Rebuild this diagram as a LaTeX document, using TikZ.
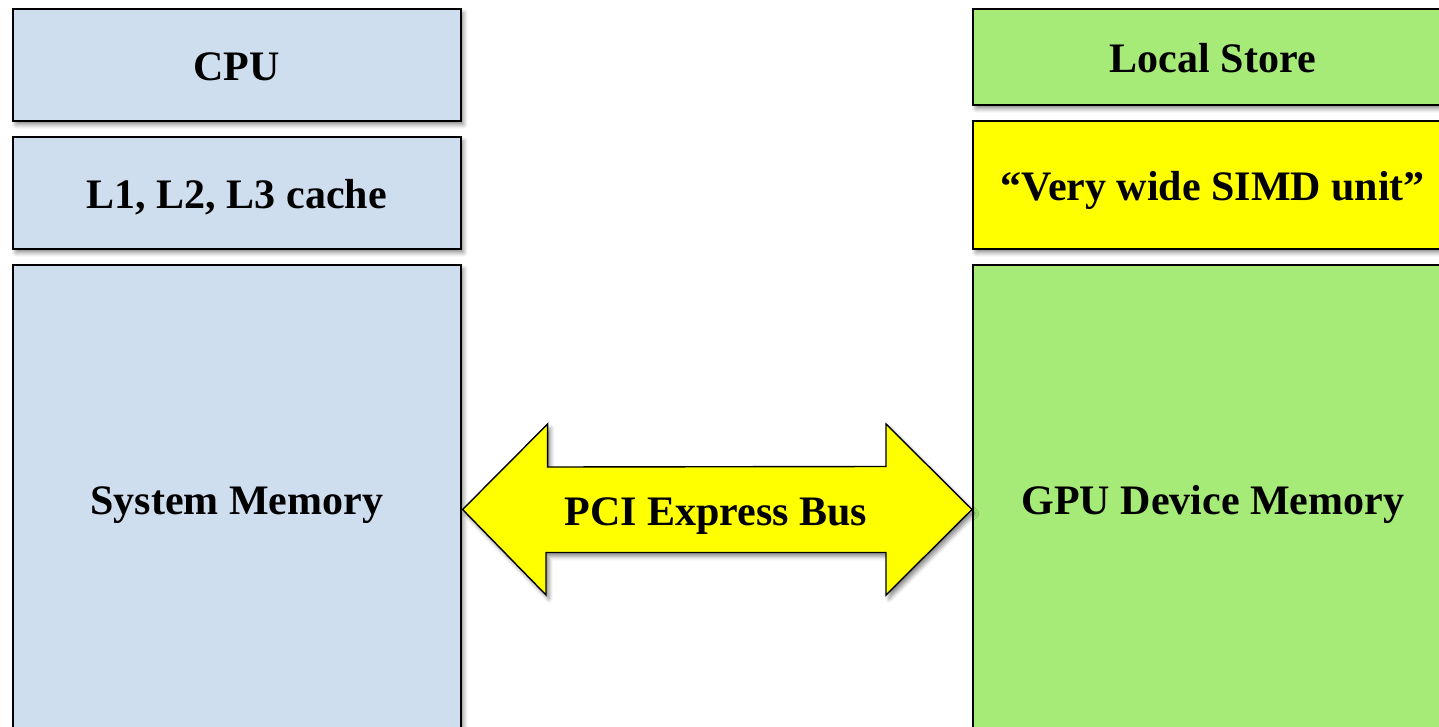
\documentclass[tikz,border=0pt]{standalone}
\usepackage{fontspec}
\setmainfont{Liberation Serif}
\usetikzlibrary{shadows.blur}
\definecolor{cpublue}{RGB}{207,222,238}
\definecolor{gpugreen}{RGB}{166,234,120}
\definecolor{simdyellow}{RGB}{255,255,0}
\tikzset{
  labeltext/.style={font=\fontsize{42}{48}\selectfont\bfseries, text height=32pt, text depth=0pt},
  unit/.style={labeltext, draw=black, line width=1.6pt, inner sep=0pt, anchor=north west,
    blur shadow={shadow xshift=3pt, shadow yshift=-4pt, shadow blur radius=4pt, shadow opacity=45}},
  hostbox/.style={unit, fill=cpublue, minimum width=448pt},
  devbox/.style={unit, fill=gpugreen, minimum width=480pt},
  busarrow/.style={draw=black, line width=1.4pt, fill=simdyellow, line join=miter,
    blur shadow={shadow xshift=3pt, shadow yshift=-4pt, shadow blur radius=4pt, shadow opacity=45}},
  buslabel/.style={labeltext, inner sep=0pt}
}
\begin{document}
\begin{tikzpicture}[x=1pt,y=-1pt]
\useasboundingbox (0,0) rectangle (1439,727);
\clip (0,0) rectangle (1439,727);

% host side
\node[hostbox, minimum height=112pt] (cpu) at (12,8) {CPU};
\node[hostbox, minimum height=112pt] (cache) at (12,136) {L1, L2, L3 cache};
\node[hostbox, minimum height=468pt] (sysmem) at (12,264) {System Memory};

% device side
\node[devbox, minimum height=96pt] (lstore) at (972,8) {Local Store};
\node[devbox, fill=simdyellow, minimum height=128pt] (simd) at (972,120) {“Very wide SIMD unit”};
\node[devbox, minimum height=468pt] (gpumem) at (972,264) {GPU Device Memory};

% bus between the two memories
\coordinate (ltip) at ([xshift=1pt]sysmem.east |- 0,509.5);
\coordinate (rtip) at (gpumem.west |- 0,509.5);
\path[busarrow] (ltip) -- ++(85,-85.5) -- ++(0,43) -- (886,466.5) -- (886,424)
  -- (rtip) -- (886,595) -- (886,552.5) -- (546,552.5) -- (546,595) -- cycle;
\node[buslabel] (bus) at (716,509.5) {PCI Express Bus};
\end{tikzpicture}
\end{document}
